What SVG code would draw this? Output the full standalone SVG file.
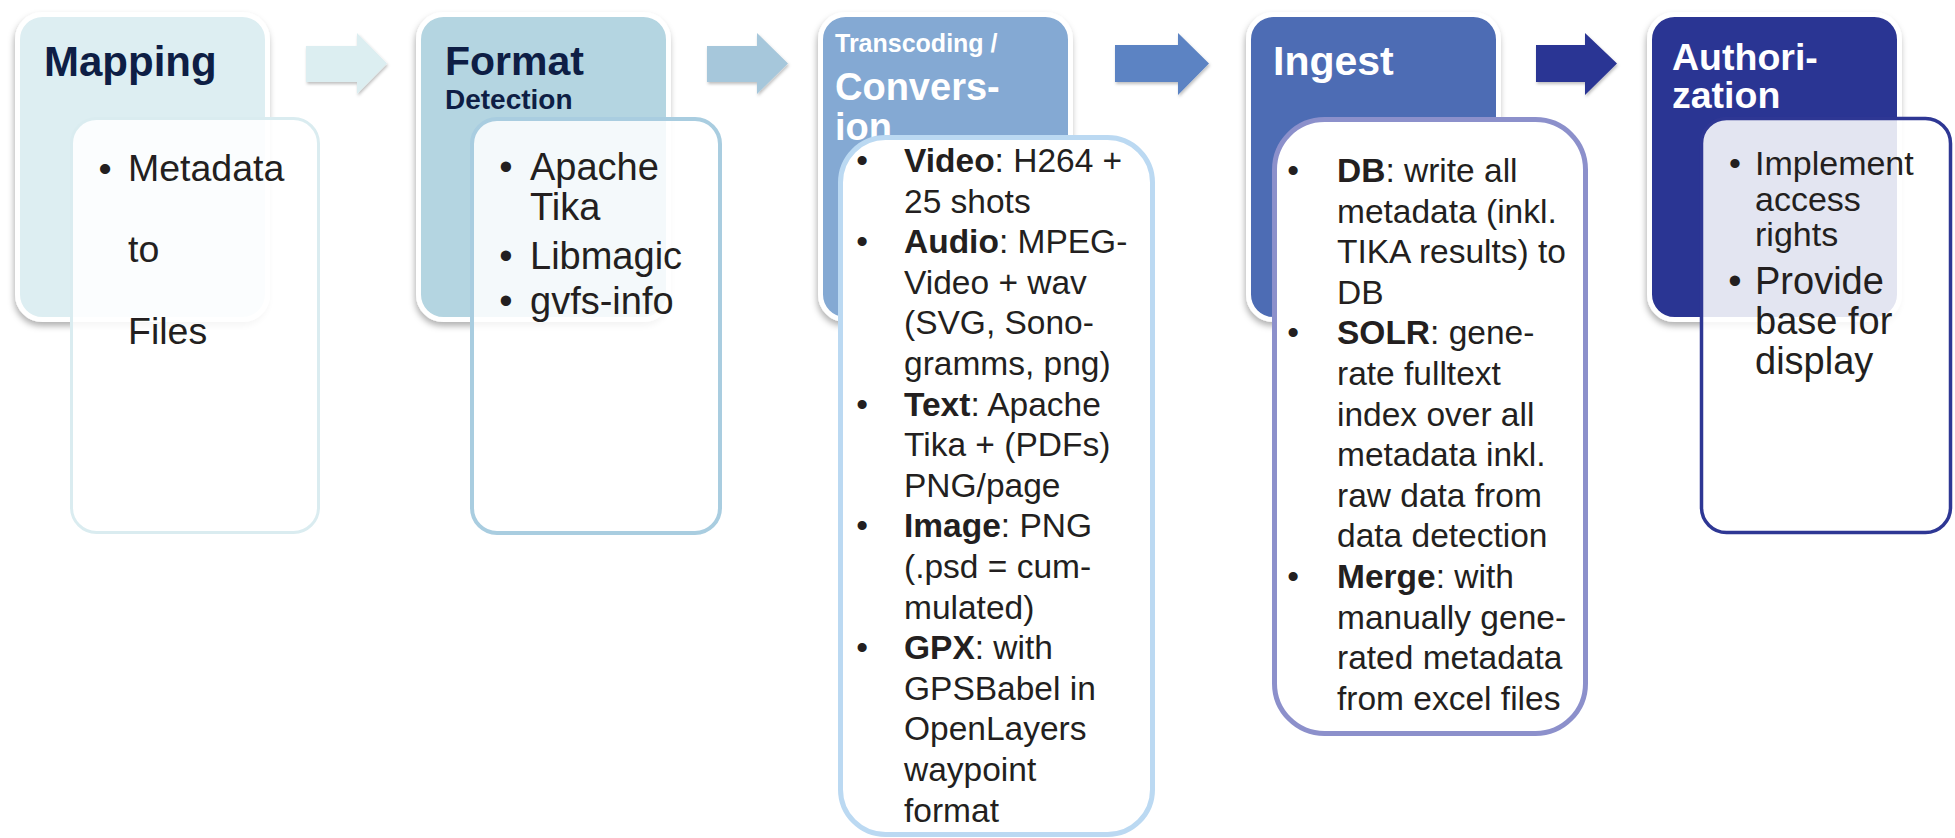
<svg xmlns="http://www.w3.org/2000/svg" width="1955" height="838" viewBox="0 0 1955 838">
<defs>
<filter id="sh" x="-10%" y="-10%" width="125%" height="125%">
<feDropShadow dx="-1" dy="4" stdDeviation="3" flood-color="#000" flood-opacity="0.3"/>
</filter>
<filter id="ash" x="-10%" y="-20%" width="130%" height="150%">
<feDropShadow dx="1" dy="2" stdDeviation="1.5" flood-color="#000" flood-opacity="0.25"/>
</filter>
</defs>
<style>
text{font-family:"Liberation Sans",Arial,Helvetica,sans-serif}
.hd{stroke:#fff;stroke-width:5;filter:url(#sh)}
.ht{font-weight:bold}
.dk{fill:#0E1E45}
.wt{fill:#fff}
.bt{fill:#231F20}
.s335{font-size:33.5px}
.bo{font-weight:bold}
.arr{filter:url(#ash)}
</style>

<g id="connectors">
<polygon class="arr" points="306,46 357,46 357,33 387,63.5 357,94 357,82 306,82" fill="#DCEEF1"/>
<polygon class="arr" points="707,46 757,46 757,33 788,63.5 757,94 757,82 707,82" fill="#A6C7DB"/>
<polygon class="arr" points="1115,45 1178,45 1178,33 1209,63.5 1178,95 1178,82 1115,82" fill="#5B83C3"/>
<polygon class="arr" points="1536,45 1585,45 1585,33 1617,63.5 1585,95 1585,82 1536,82" fill="#2C3594"/>
</g>

<g id="mapping">
<rect class="hd" x="17.5" y="14.5" width="250" height="305" rx="25" fill="#DDEEF2"/>
<text class="ht dk" x="44" y="76" font-size="42">Mapping</text>
<rect x="71.5" y="118.5" width="247" height="414" rx="25" fill="#fff" fill-opacity="0.88" stroke="#DAECF0" stroke-width="3"/>
<g class="bt" font-size="37.5">
<text x="105" y="181" text-anchor="middle">•</text>
<text x="128" y="181">Metadata</text>
<text x="128" y="262">to</text>
<text x="128" y="344">Files</text>
</g>
</g>

<g id="format">
<rect class="hd" x="418.5" y="14.5" width="250" height="305" rx="25" fill="#B4D5E1"/>
<text class="ht dk" x="445" y="75" font-size="41">Format</text>
<text class="ht dk" x="445" y="109" font-size="28">Detection</text>
<rect x="472" y="119" width="248" height="414" rx="25" fill="#fff" fill-opacity="0.85" stroke="#A9CDE0" stroke-width="4"/>
<g class="bt" font-size="38">
<text x="506" y="180" text-anchor="middle">•</text>
<text x="530" y="180">Apache</text>
<text x="530" y="220">Tika</text>
<text x="506" y="269" text-anchor="middle">•</text>
<text x="530" y="269">Libmagic</text>
<text x="506" y="314" text-anchor="middle">•</text>
<text x="530" y="314">gvfs-info</text>
</g>
</g>

<g id="transcoding">
<rect class="hd" x="820.5" y="14.5" width="250" height="305" rx="25" fill="#84A9D3"/>
<text class="ht wt" x="835" y="52" font-size="25">Transcoding /</text>
<text class="ht wt" x="835" y="100" font-size="38">Convers-</text>
<text class="ht wt" x="835" y="140" font-size="38">ion</text>
<rect x="840.5" y="137.5" width="312" height="697" rx="45" fill="#fff" stroke="#BBD9F2" stroke-width="5"/>
<g class="bt s335">
<text x="862" y="172" text-anchor="middle">•</text>
<text x="862" y="253.2" text-anchor="middle">•</text>
<text x="862" y="415.6" text-anchor="middle">•</text>
<text x="862" y="537.4" text-anchor="middle">•</text>
<text x="862" y="659.2" text-anchor="middle">•</text>
<text x="904" y="172"><tspan class="bo">Video</tspan>: H264 +</text>
<text x="904" y="212.6">25 shots</text>
<text x="904" y="253.2"><tspan class="bo">Audio</tspan>: MPEG-</text>
<text x="904" y="293.8">Video + wav</text>
<text x="904" y="334.4">(SVG, Sono-</text>
<text x="904" y="375">gramms, png)</text>
<text x="904" y="415.6"><tspan class="bo">Text</tspan>: Apache</text>
<text x="904" y="456.2">Tika + (PDFs)</text>
<text x="904" y="496.8">PNG/page</text>
<text x="904" y="537.4"><tspan class="bo">Image</tspan>: PNG</text>
<text x="904" y="578">(.psd = cum-</text>
<text x="904" y="618.6">mulated)</text>
<text x="904" y="659.2"><tspan class="bo">GPX</tspan>: with</text>
<text x="904" y="699.8">GPSBabel in</text>
<text x="904" y="740.4">OpenLayers</text>
<text x="904" y="781">waypoint</text>
<text x="904" y="821.6">format</text>
</g>
</g>

<g id="ingest">
<rect class="hd" x="1248.5" y="14.5" width="250" height="305" rx="25" fill="#4D6CB4"/>
<text class="ht wt" x="1273" y="75" font-size="41">Ingest</text>
<rect x="1274.5" y="119.5" width="311" height="614" rx="50" fill="#fff" stroke="#8C90CB" stroke-width="5"/>
<g class="bt s335">
<text x="1293" y="182" text-anchor="middle">•</text>
<text x="1293" y="344.4" text-anchor="middle">•</text>
<text x="1293" y="588" text-anchor="middle">•</text>
<text x="1337" y="182"><tspan class="bo">DB</tspan>: write all</text>
<text x="1337" y="222.6">metadata (inkl.</text>
<text x="1337" y="263.2">TIKA results) to</text>
<text x="1337" y="303.8">DB</text>
<text x="1337" y="344.4"><tspan class="bo">SOLR</tspan>: gene-</text>
<text x="1337" y="385">rate fulltext</text>
<text x="1337" y="425.6">index over all</text>
<text x="1337" y="466.2">metadata inkl.</text>
<text x="1337" y="506.8">raw data from</text>
<text x="1337" y="547.4">data detection</text>
<text x="1337" y="588"><tspan class="bo">Merge</tspan>: with</text>
<text x="1337" y="628.6">manually gene-</text>
<text x="1337" y="669.2">rated metadata</text>
<text x="1337" y="709.8">from excel files</text>
</g>
</g>

<g id="authorization">
<rect class="hd" x="1649.5" y="14.5" width="250" height="305" rx="25" fill="#2C3693"/>
<text class="ht wt" x="1672" y="70" font-size="37.5">Authori-</text>
<text class="ht wt" x="1672" y="108" font-size="37.5">zation</text>
<rect x="1701.5" y="118.5" width="249" height="414" rx="25" fill="#fff" fill-opacity="0.87" stroke="#2E3794" stroke-width="3.5"/>
<g class="bt">
<text x="1735" y="175" text-anchor="middle" font-size="34">•</text>
<text x="1755" y="175" font-size="34">Implement</text>
<text x="1755" y="210.5" font-size="34">access</text>
<text x="1755" y="246" font-size="34">rights</text>
<text x="1735" y="294" text-anchor="middle" font-size="38">•</text>
<text x="1755" y="294" font-size="38">Provide</text>
<text x="1755" y="334" font-size="38">base for</text>
<text x="1755" y="374" font-size="38">display</text>
</g>
</g>
</svg>
